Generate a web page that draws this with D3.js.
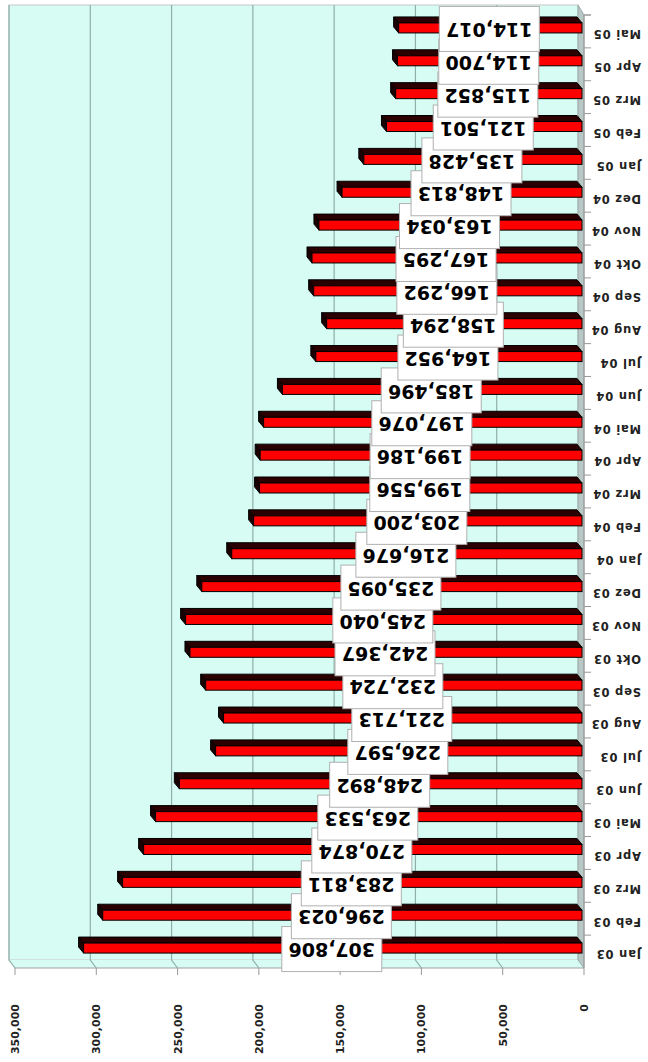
<!DOCTYPE html>
<html><head><meta charset="utf-8">
<script src="https://cdn.jsdelivr.net/npm/d3@7"></script>
<style>html,body{margin:0;padding:0;background:#fff;}svg{display:block;}</style>
</head><body>
<svg id="c" width="648" height="1062"></svg>
<script>
const categories = ["Jan 03","Feb 03","Mrz 03","Apr 03","Mai 03","Jun 03","Jul 03","Aug 03","Sep 03","Okt 03","Nov 03","Dez 03",
  "Jan 04","Feb 04","Mrz 04","Apr 04","Mai 04","Jun 04","Jul 04","Aug 04","Sep 04","Okt 04","Nov 04","Dez 04",
  "Jan 05","Feb 05","Mrz 05","Apr 05","Mai 05"];
const values = [307806,296023,283811,270874,263533,248892,226597,221713,232724,242367,245040,235095,
  216676,203200,199556,199186,197076,185496,164952,158294,166292,167295,163034,148813,
  135428,121501,115852,114700,114017];
const ticks = [0,50000,100000,150000,200000,250000,300000,350000];

const svg = d3.select("#c");
const x = d3.scaleLinear().domain([0,350000]).range([584,15]);
const y = d3.scaleBand().domain(categories).range([968,15]).padding(0);
const dx = -6, dy = -8; // depth offset
const fmt = d3.format(",");
const x0 = x(0);

// back wall
svg.append("rect").attr("x", 15+dx).attr("y", 15+dy-2).attr("width", x0-15).attr("height", 968-15+2)
  .attr("fill","#d6fcf4").attr("stroke","#c8c8c8").attr("stroke-width",1);
// floor
svg.append("path").attr("d", `M${15+dx},${968+dy}L${x0+dx},${968+dy}L${x0},968L15,968Z`).attr("fill","#d6fcf4");
// side wall
svg.append("path").attr("d", `M${x0+dx},${15+dy-2}L${x0},15L${x0},968L${x0+dx},${968+dy}Z`).attr("fill","#b8c8c4").attr("stroke","#9aa","stroke-width",0.5);

// gridlines
ticks.forEach(t => {
  if (t === 0) return;
  const gx = x(t);
  svg.append("path").attr("d", `M${gx+dx},${15+dy-2}L${gx+dx},${968+dy}L${gx},968`)
    .attr("fill","none").attr("stroke","#8fb0a8").attr("stroke-width",1.2);
});
// left edge of floor
svg.append("line").attr("x1",15).attr("x2",x0).attr("y1",968).attr("y2",968).attr("stroke","#a0a0a0").attr("stroke-width",1);

// value axis ticks and labels
const gAx = svg.append("g");
ticks.forEach(t => {
  gAx.append("line").attr("x1",x(t)).attr("x2",x(t)).attr("y1",968).attr("y2",975).attr("stroke","#999");
  gAx.append("text").attr("transform",`translate(${x(t)},1004) rotate(-90)`).attr("text-anchor","end")
    .attr("dy","0.36em").attr("font-family","DejaVu Sans").attr("font-weight","bold").attr("font-size",11)
    .attr("fill","#222").text(fmt(t));
});

// category axis
svg.append("line").attr("x1",x0).attr("x2",x0).attr("y1",15).attr("y2",968).attr("stroke","#999");
const bounds = categories.map(c => y(c)).concat([15]);
bounds.forEach(b => svg.append("line").attr("x1",x0).attr("x2",x0+7).attr("y1",b).attr("y2",b).attr("stroke","#999"));
categories.forEach(c => {
  const cy = y(c) + y.bandwidth()/2;
  svg.append("text").attr("transform",`translate(641,${cy+3}) rotate(180)`).attr("text-anchor","start")
    .attr("dy","0.36em").attr("font-family","DejaVu Sans").attr("font-weight","bold").attr("font-size",11.5)
    .attr("letter-spacing",0.8).attr("fill","#222").text(c);
});

// bars
const gb = svg.append("g");
categories.forEach((c,i) => {
  const cy = y(c) + y.bandwidth()/2;
  const xv = x(values[i]);
  const top = cy - 8.5, bot = cy + 1.5, xr = x0 - 2;
  const ddx = -5, ddy = -6;
  gb.append("path").attr("d", `M${xv},${top}L${xr},${top}L${xr+ddx},${top+ddy}L${xv+ddx},${top+ddy}Z`)
    .attr("fill","#2a0000").attr("stroke","#000").attr("stroke-width",1);
  gb.append("path").attr("d", `M${xv},${top}L${xv},${bot}L${xv+ddx},${bot+ddy}L${xv+ddx},${top+ddy}Z`)
    .attr("fill","#1a0000").attr("stroke","#000").attr("stroke-width",1);
  gb.append("rect").attr("x",xv).attr("y",top).attr("width",xr-xv).attr("height",bot-top)
    .attr("fill","#ff0000").attr("stroke","#000").attr("stroke-width",1);
});

// value labels
const gl = svg.append("g");
categories.forEach((c,i) => {
  const cy = y(c) + y.bandwidth()/2;
  const xv = x(values[i]);
  const cx = (xv + x0)/2 - 2;
  gl.append("rect").attr("x",cx-50).attr("y",cy-25).attr("width",100).attr("height",45)
    .attr("fill","#fff").attr("stroke","#b0b0b0").attr("stroke-width",1);
  gl.append("text").attr("transform",`translate(${cx},${cy-1.5}) rotate(180)`).attr("text-anchor","middle")
    .attr("dy","0.36em").attr("font-family","DejaVu Sans").attr("font-weight","bold").attr("font-size",19)
    .attr("fill","#000").text(fmt(values[i]));
});
</script>
</body></html>
